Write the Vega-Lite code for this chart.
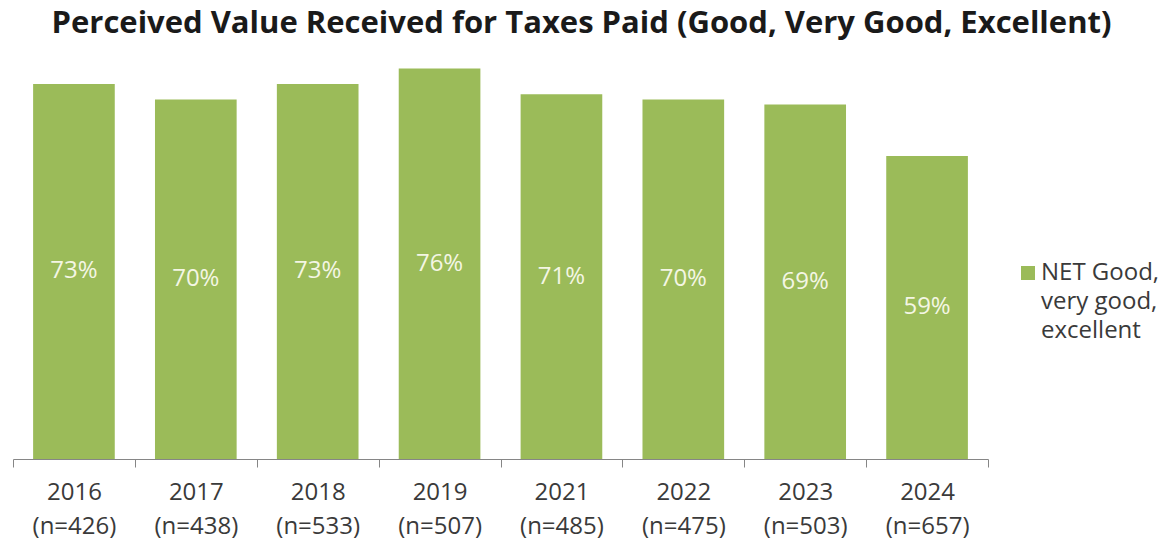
{
  "$schema": "https://vega.github.io/schema/vega-lite/v6.json",
  "autosize": {"type": "none"},
  "width": 975,
  "height": 411,
  "padding": {"left": 13, "top": 48, "right": 183, "bottom": 87},
  "background": "white",
  "title": {
    "text": "Perceived Value Received for Taxes Paid (Good, Very Good, Excellent)",
    "font": "Open Sans",
    "fontSize": 31,
    "fontWeight": "bold",
    "color": "#1a1a1a",
    "anchor": "middle",
    "dx": 81,
    "baseline": "alphabetic",
    "offset": -16
  },
  "data": {
    "values": [
      {"category": "2016 (n=426)", "value": 0.73, "series": "NET Good, very good, excellent"},
      {"category": "2017 (n=438)", "value": 0.70, "series": "NET Good, very good, excellent"},
      {"category": "2018 (n=533)", "value": 0.73, "series": "NET Good, very good, excellent"},
      {"category": "2019 (n=507)", "value": 0.76, "series": "NET Good, very good, excellent"},
      {"category": "2021 (n=485)", "value": 0.71, "series": "NET Good, very good, excellent"},
      {"category": "2022 (n=475)", "value": 0.70, "series": "NET Good, very good, excellent"},
      {"category": "2023 (n=503)", "value": 0.69, "series": "NET Good, very good, excellent"},
      {"category": "2024 (n=657)", "value": 0.59, "series": "NET Good, very good, excellent"}
    ]
  },
  "encoding": {
    "x": {
      "field": "category",
      "type": "nominal",
      "sort": null,
      "scale": {"paddingInner": 0, "paddingOuter": 0},
      "axis": {
        "title": null,
        "labelAngle": 0,
        "labelExpr": "split(datum.label, ' ')",
        "labelFont": "Open Sans",
        "labelFontSize": 24,
        "labelColor": "#3a3a3a",
        "labelLineHeight": 34,
        "labelPadding": 13,
        "labelBaseline": "top",
        "tickBand": "extent",
        "tickSize": 8,
        "tickColor": "#868686",
        "domainColor": "#868686",
        "grid": false
      }
    }
  },
  "layer": [
    {
      "mark": {"type": "bar", "width": {"band": 0.67}},
      "encoding": {
        "y": {"field": "value", "type": "quantitative", "scale": {"domain": [0, 0.8]}, "axis": null},
        "color": {
          "field": "series",
          "type": "nominal",
          "scale": {"range": ["#9BBB59"]},
          "legend": {
            "title": null,
            "orient": "none",
            "legendX": 1003,
            "legendY": 213,
            "symbolType": "square",
            "symbolSize": 196,
            "symbolOpacity": 1,
            "labelExpr": "split(replace(datum.label, /, /g, ',|'), '|')",
            "labelFont": "Open Sans",
            "labelFontSize": 24,
            "labelColor": "#3a3a3a",
            "labelLineHeight": 29,
            "labelBaseline": "top",
            "labelOffset": 1,
            "labelLimit": 300,
            "encode": {"labels": {"update": {"dy": {"value": -12}, "lineHeight": {"value": 29}}}}
          }
        }
      }
    },
    {
      "transform": [{"calculate": "datum.value / 2", "as": "mid"}],
      "mark": {"type": "text", "font": "Open Sans", "fontSize": 24, "color": "#F4F6E4", "baseline": "middle"},
      "encoding": {
        "y": {"field": "mid", "type": "quantitative", "scale": {"domain": [0, 0.8]}},
        "text": {"field": "value", "type": "quantitative", "format": ".0%"}
      }
    }
  ],
  "config": {"view": {"stroke": null}}
}
